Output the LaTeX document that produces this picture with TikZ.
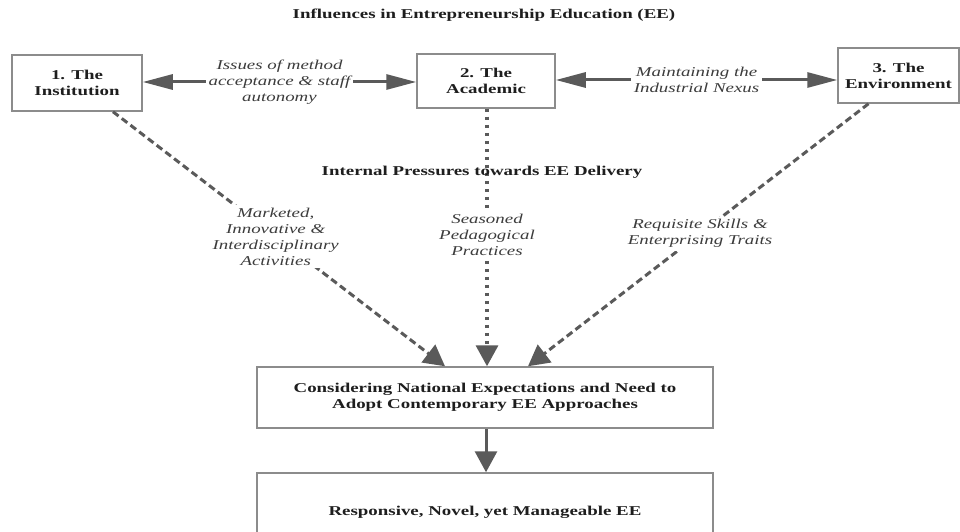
\documentclass[tikz,border=0pt]{standalone}
\usepackage{fontspec}
\setmainfont[FakeStretch=1.4]{Liberation Serif}
\usetikzlibrary{arrows.meta,calc}
\definecolor{linegray}{HTML}{5A5A5A}
\definecolor{boxgray}{HTML}{8C8C8C}
\definecolor{txt}{HTML}{1E1E1E}
\definecolor{itxt}{HTML}{3C3C3C}
\tikzset{
  box/.style={draw=boxgray, line width=1.5pt, fill=white, align=center,
    font=\fontsize{13.5}{16}\selectfont\bfseries, text=txt, inner sep=0pt},
  lbl/.style={fill=white, align=center,
    font=\fontsize{13.5}{16}\selectfont\itshape, text=itxt, inner sep=3pt},
  heading/.style={font=\fontsize{13.5}{16}\selectfont\bfseries, text=txt, inner sep=0pt},
  solidconn/.style={draw=linegray, line width=3pt},
  dashconn/.style={draw=linegray, line width=3pt, dash pattern=on 7pt off 4pt},
  dotconn/.style={draw=linegray, line width=3.5pt, dash pattern=on 3.5pt off 4.5pt},
  vhead/.style={-{Triangle[length=21pt,width=22pt,fill=linegray,color=linegray]}}
}
\begin{document}
\begin{tikzpicture}[x=1pt,y=-1pt]
\clip (0,0) rectangle (960,532);
\fill[white] (0,0) rectangle (960,532);

\node[heading] (title) at (484,15) {Influences in Entrepreneurship Education (EE)};

\node[box, minimum width=130pt, minimum height=56pt] (b1) at (77,83) {1. The\\Institution};
\node[box, minimum width=138pt, minimum height=54pt] (b2) at (486,81) {2. The\\Academic};
\node[box, minimum width=121pt, minimum height=55pt] (b3) at (898.5,75.5) {3. The\\Environment};
\node[box, minimum width=456pt, minimum height=61pt] (b4) at (485,397.5)
  {Considering National Expectations and Need to\\Adopt Contemporary EE Approaches};
\node[box, minimum width=456pt, minimum height=78pt] (b5) at (485,512)
  {Responsive, Novel, yet Manageable EE};

% horizontal double arrows
\draw[solidconn, {Triangle[length=30pt,width=15pt]}-{Triangle[length=30pt,width=15pt]}]
  (b1.east |- 0,82) -- (b2.west |- 0,82)
  node[lbl, midway] (l1) {Issues of method\\acceptance \& staff\\autonomy};
\draw[solidconn, {Triangle[length=30pt,width=15pt]}-{Triangle[length=30pt,width=15pt]}]
  (b2.east |- 0,80) -- (b3.west |- 0,80)
  node[lbl, midway] (l2) {Maintaining the\\Industrial Nexus};

% pressures towards b4
\draw[dashconn, vhead] ($(b1.south)+(36,0)$) -- ($(b4.north)+(-40,0)$)
  node[lbl, pos=0.49] (l3) {Marketed,\\Innovative \&\\Interdisciplinary\\Activities};
\draw[dotconn, vhead] ($(b2.south)+(1,0)$) -- ($(b4.north)+(2,0)$)
  node[lbl, pos=0.49] (l4) {Seasoned\\Pedagogical\\Practices};
\draw[dashconn, vhead] ($(b3.south)+(-30,0)$) -- ($(b4.north)+(43,0)$)
  node[lbl, pos=0.495] (l5) {Requisite Skills \&\\Enterprising Traits};

\node[heading] (ip) at (482,172) {Internal Pressures towards EE Delivery};

% b4 to b5
\draw[solidconn, vhead] ($(b4.south)+(1,0)$) -- ($(b5.north)+(1,0)$);
\end{tikzpicture}
\end{document}
